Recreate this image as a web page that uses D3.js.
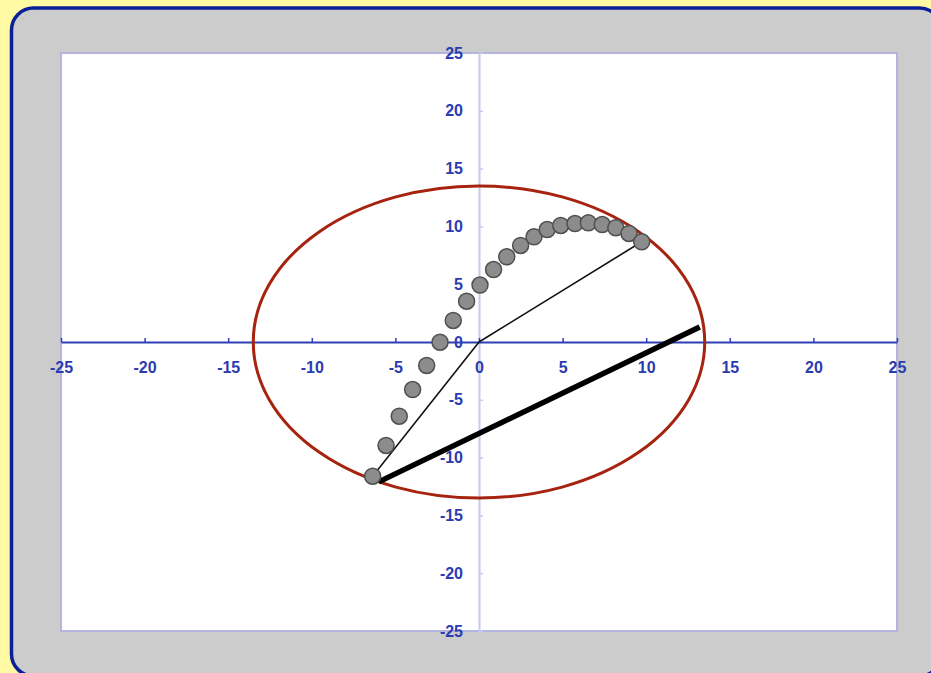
<!DOCTYPE html>
<html>
<head>
<meta charset="utf-8">
<script src="https://cdn.jsdelivr.net/npm/d3@7"></script>
<style>
  body { margin: 0; background: #fffaa3; }
  .tick text { font-family: "Liberation Sans", Arial, sans-serif; font-weight: bold; font-size: 16px; fill: #2b3bb0; }
</style>
</head>
<body>
<div id="chart"></div>
<script>
const width = 931;
const height = 673;

// tick values shown on both axes
const tickValues = [-25, -20, -15, -10, -5, 0, 5, 10, 15, 20, 25];

// grey dots
const dotX = [-6.36, -5.56, -4.77, -3.97, -3.13, -2.33, -1.54, -0.74, 0.06, 0.87, 1.66,
              2.49, 3.29, 4.08, 4.89, 5.74, 6.54, 7.37, 8.18, 8.97, 9.73];
const dotY = [-11.61, -8.95, -6.42, -4.11, -2.03, -0.02, 1.86, 3.53, 4.93, 6.27, 7.37,
              8.35, 9.10, 9.73, 10.08, 10.25, 10.31, 10.16, 9.88, 9.39, 8.67];

// red circle radius
const circleRadius = 13.5;

// thin arms from origin, and thick chord
const armX = [[0, -6.36], [0, 9.73]];
const armY = [[0, -11.61], [0, 8.67]];
const chordX = [-6.0, 13.2];
const chordY = [-12.1, 1.3];

const plot = { left: 61, right: 897, top: 53, bottom: 631 };

let svg = d3.select("#chart").append("svg")
  .attr("width", width)
  .attr("height", height);

// outer panel
svg.append("rect")
  .attr("x", 11.5).attr("y", 8)
  .attr("width", 930).attr("height", 668)
  .attr("rx", 22)
  .attr("fill", "#cccccc")
  .attr("stroke", "#0b1f98")
  .attr("stroke-width", 3.5);

// plot area
svg.append("rect")
  .attr("x", plot.left).attr("y", plot.top)
  .attr("width", plot.right - plot.left).attr("height", plot.bottom - plot.top)
  .attr("fill", "#ffffff")
  .attr("stroke", "#b4b4de")
  .attr("stroke-width", 2);

let x = d3.scaleLinear().domain([-25, 25]).range([plot.left, plot.right]);
let y = d3.scaleLinear().domain([-25, 25]).range([plot.bottom, plot.top]);

// plain hyphen minus like the original
let fmt = function(d) { return String(d); };

// y axis (light)
let yAxis = d3.axisLeft(y)
  .tickValues(tickValues)
  .tickFormat(fmt)
  .tickSizeInner(-4)
  .tickSizeOuter(0)
  .tickPadding(16);

let yG = svg.append("g")
  .attr("transform", "translate(" + x(0) + ",0)")
  .call(yAxis);
yG.select(".domain").attr("stroke", "#c8c8f0").attr("stroke-width", 2);
yG.selectAll(".tick line").attr("stroke", "#c8c8f0").attr("stroke-width", 1.5);

// x axis (dark)
let xAxis = d3.axisBottom(x)
  .tickValues(tickValues)
  .tickFormat(fmt)
  .tickSizeInner(-4)
  .tickSizeOuter(0)
  .tickPadding(20);

let xG = svg.append("g")
  .attr("transform", "translate(0," + y(0) + ")")
  .call(xAxis);
xG.select(".domain").attr("stroke", "#2f3fb4").attr("stroke-width", 2.2);
xG.selectAll(".tick line").attr("stroke", "#2f3fb4").attr("stroke-width", 1.5);

// red circle
svg.append("ellipse")
  .attr("cx", x(0))
  .attr("cy", y(0))
  .attr("rx", x(circleRadius) - x(0))
  .attr("ry", y(0) - y(circleRadius))
  .attr("fill", "none")
  .attr("stroke", "#a6230f")
  .attr("stroke-width", 3);

let line = d3.line()
  .x(function(d) { return x(d[0]); })
  .y(function(d) { return y(d[1]); });

// thin arms
armX.forEach(function(ax, i) {
  svg.append("path")
    .attr("d", line(ax.map(function(v, j) { return [v, armY[i][j]]; })))
    .attr("fill", "none")
    .attr("stroke", "#111")
    .attr("stroke-width", 1.6);
});

// thick chord
svg.append("path")
  .attr("d", line(chordX.map(function(v, j) { return [v, chordY[j]]; })))
  .attr("fill", "none")
  .attr("stroke", "#000")
  .attr("stroke-width", 5.5);

// dots
svg.selectAll("circle.dot")
  .data(dotX.map(function(v, i) { return [v, dotY[i]]; }))
  .enter().append("circle")
  .attr("class", "dot")
  .attr("cx", function(d) { return x(d[0]); })
  .attr("cy", function(d) { return y(d[1]); })
  .attr("r", 8)
  .attr("fill", "#8c8c8c")
  .attr("stroke", "#505050")
  .attr("stroke-width", 1.5);
</script>
</body>
</html>
